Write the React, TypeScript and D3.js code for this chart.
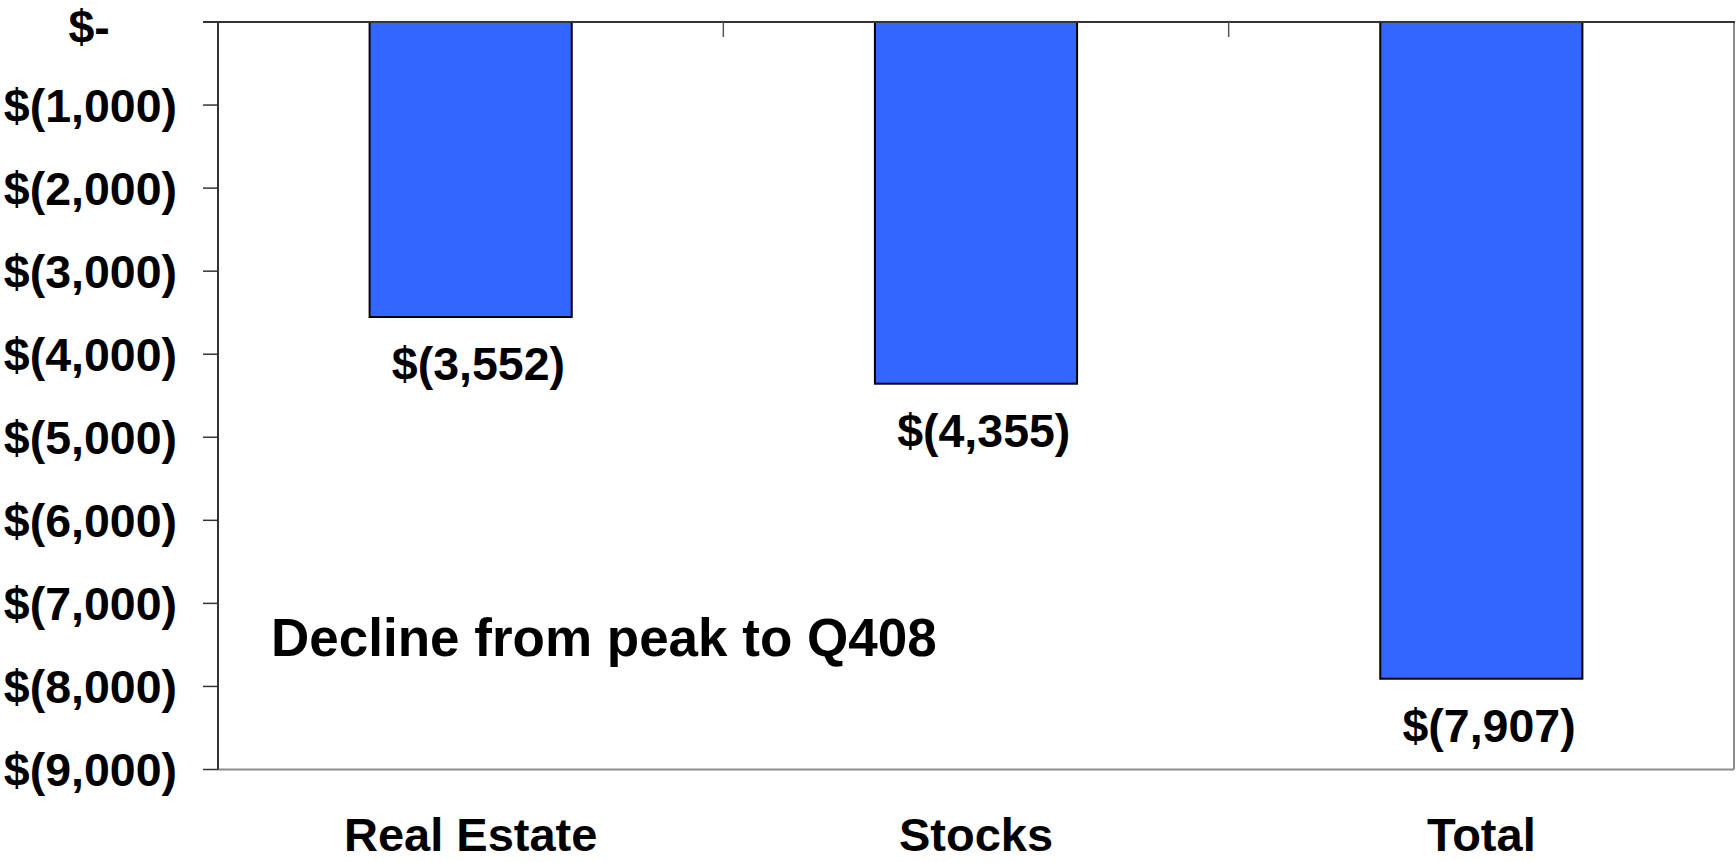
import React from "react";
import * as d3 from "d3";

const categories = ["Real Estate", "Stocks", "Total"];
const values = [-3552, -4355, -7907];
const yTicks = [0, -1000, -2000, -3000, -4000, -5000, -6000, -7000, -8000, -9000];
const annotation = "Decline from peak to Q408";

const W = 1736;
const H = 862;
const M = { left: 218, right: 2, top: 22, bottom: 92.5 };
const FONT = "'Liberation Sans', Arial, Helvetica, sans-serif";

function fmt(v: number): string {
  if (v === 0) return "$-";
  const s = d3.format(",")(Math.abs(v));
  return v < 0 ? `$(${s})` : `$${s}`;
}

export default function App() {
  React.useEffect(() => {
    document.body.style.margin = "0";
  }, []);

  const x = d3
    .scaleBand<string>()
    .domain(categories)
    .range([M.left, W - M.right])
    .padding(0);
  const y = d3
    .scaleLinear()
    .domain([0, -9000])
    .range([M.top, H - M.bottom]);

  const barW = x.bandwidth() * 0.4;
  const x0 = M.left;
  const x1 = W - M.right;
  const yTop = y(0);
  const yBot = y(-9000);
  const boundaries = categories.slice(1).map((c) => x(c)!);

  return (
    <svg
      width={W}
      height={H}
      style={{ position: "absolute", left: 0, top: 0, background: "#fff" }}
      fontFamily={FONT}
      fontWeight="bold"
    >
      <rect x={0} y={0} width={W} height={H} fill="#fff" />
      {/* plot frame: right and bottom gray */}
      <line x1={x1} x2={x1} y1={yTop} y2={yBot} stroke="#8c8c8c" strokeWidth={2} />
      <line x1={x0} x2={x1} y1={yBot} y2={yBot} stroke="#8c8c8c" strokeWidth={2} />

      {/* bars */}
      {categories.map((c, i) => {
        const cx = x(c)! + x.bandwidth() / 2;
        const v = values[i];
        return (
          <g key={c}>
            <rect
              x={cx - barW / 2}
              y={y(0)}
              width={barW}
              height={y(v) - y(0)}
              fill="#3366FF"
              stroke="#000"
              strokeWidth={2}
            />
            <text
              x={cx}
              y={y(v) + 63}
              dx="0.167em"
              textAnchor="middle"
              fontSize={46.5}
              fill="#000"
            >
              {fmt(v)}
            </text>
            <text x={cx} y={851} textAnchor="middle" fontSize={47} fill="#000">
              {c}
            </text>
          </g>
        );
      })}

      {/* y axis */}
      <line x1={x0} x2={x0} y1={yTop} y2={yBot} stroke="#333" strokeWidth={2} />
      {yTicks.map((t) => (
        <g key={t}>
          <line x1={x0 - 15} x2={x0} y1={y(t)} y2={y(t)} stroke="#333" strokeWidth={1.5} />
          <text
            x={177}
            y={y(t) + (t === 0 ? 4 : 0)}
            dy="0.36em"
            dx={t === 0 ? "-1.445em" : 0}
            textAnchor="end"
            fontSize={46.5}
            fill="#000"
          >
            {fmt(t)}
          </text>
        </g>
      ))}

      {/* zero line (top) with category boundary ticks */}
      <line x1={x0 - 15} x2={x1 + 1} y1={yTop} y2={yTop} stroke="#333" strokeWidth={2} />
      {boundaries.map((bx, i) => (
        <line key={i} x1={bx} x2={bx} y1={yTop} y2={yTop + 15} stroke="#555" strokeWidth={1.5} />
      ))}

      <text x={271} y={656} fontSize={53} fill="#000">
        {annotation}
      </text>
    </svg>
  );
}
